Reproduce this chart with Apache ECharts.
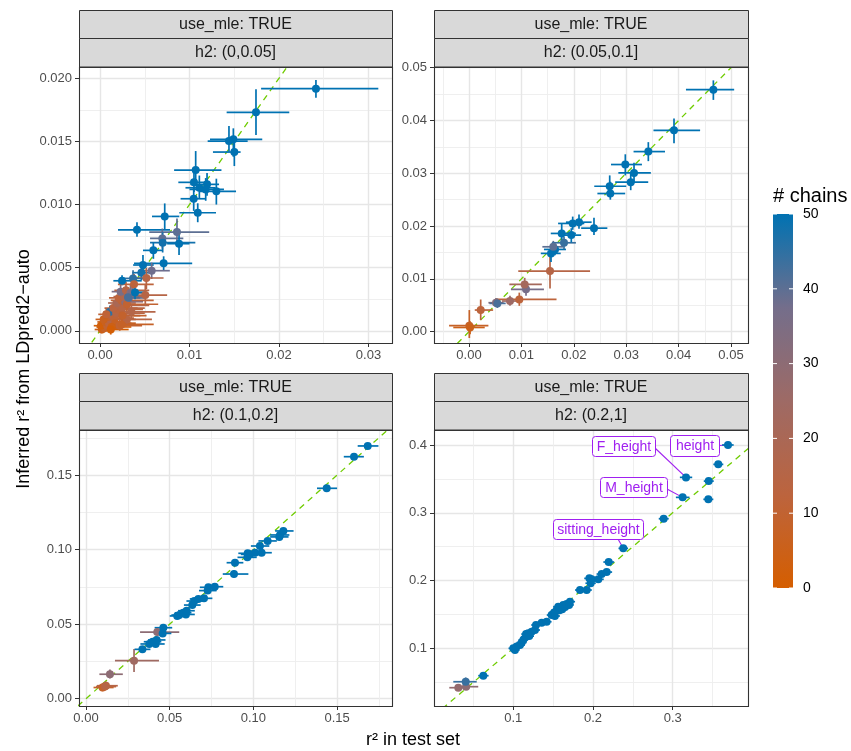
<!DOCTYPE html>
<html>
<head>
<meta charset="utf-8">
<script src="https://cdn.jsdelivr.net/npm/echarts@6/dist/echarts.min.js"></script>
<style>
  html, body { margin: 0; padding: 0; background: #fff; }
  #main { width: 851px; height: 751px; }
</style>
</head>
<body>
<div id="main"></div>
<script>
// rows: [x, xLow, xHigh, y, yLow, yHigh, chains]
const ptsH2a = [
  [0.0002, -0.0006, 0.0015, 0.0001, -0.0002, 0.0005, 5],
  [0.0003, -0.0004, 0.0020, 0.0003, 0.0000, 0.0007, 3],
  [0.0005, -0.0002, 0.0022, 0.0002, -0.0001, 0.0006, 8],
  [0.0001, -0.0007, 0.0012, 0.0004, 0.0001, 0.0008, 2],
  [0.0008, 0.0000, 0.0030, 0.0004, 0.0001, 0.0009, 10],
  [0.0006, -0.0003, 0.0025, 0.0007, 0.0003, 0.0012, 6],
  [0.0010, 0.0002, 0.0035, 0.0006, 0.0002, 0.0011, 12],
  [0.0012, 0.0003, 0.0040, 0.0009, 0.0004, 0.0014, 15],
  [0.0009, 0.0001, 0.0028, 0.0011, 0.0006, 0.0016, 9],
  [0.0014, 0.0005, 0.0045, 0.0012, 0.0007, 0.0018, 18],
  [0.0016, 0.0006, 0.0038, 0.0010, 0.0005, 0.0015, 11],
  [0.0011, 0.0004, 0.0025, 0.0015, 0.0010, 0.0020, 45],
  [0.0018, 0.0008, 0.0050, 0.0014, 0.0008, 0.0020, 14],
  [0.0020, 0.0010, 0.0048, 0.0017, 0.0011, 0.0023, 12],
  [0.0015, 0.0005, 0.0042, 0.0018, 0.0012, 0.0024, 13],
  [0.0022, 0.0012, 0.0055, 0.0020, 0.0014, 0.0026, 16],
  [0.0025, 0.0013, 0.0050, 0.0018, 0.0012, 0.0024, 14],
  [0.0019, 0.0009, 0.0040, 0.0022, 0.0016, 0.0028, 20],
  [0.0024, 0.0012, 0.0060, 0.0024, 0.0017, 0.0031, 11],
  [0.0028, 0.0016, 0.0048, 0.0023, 0.0017, 0.0029, 30],
  [0.0021, 0.0010, 0.0045, 0.0026, 0.0019, 0.0033, 12],
  [0.0027, 0.0015, 0.0052, 0.0027, 0.0020, 0.0034, 18],
  [0.0030, 0.0017, 0.0065, 0.0021, 0.0014, 0.0028, 10],
  [0.0032, 0.0020, 0.0050, 0.0026, 0.0020, 0.0032, 40],
  [0.0017, 0.0007, 0.0040, 0.0006, 0.0001, 0.0011, 7],
  [0.0022, 0.0010, 0.0047, 0.0004, 0.0000, 0.0009, 10],
  [0.0030, 0.0015, 0.0058, 0.0009, 0.0004, 0.0015, 14],
  [0.0025, 0.0012, 0.0052, 0.0012, 0.0006, 0.0018, 9],
  [0.0035, 0.0020, 0.0062, 0.0015, 0.0009, 0.0021, 16],
  [0.0013, 0.0003, 0.0035, 0.0003, -0.0001, 0.0007, 4],
  [0.0004, -0.0005, 0.0020, 0.0009, 0.0004, 0.0014, 6],
  [0.0007, -0.0002, 0.0026, 0.0013, 0.0008, 0.0018, 11],
  [0.0023, 0.0013, 0.0040, 0.0031, 0.0024, 0.0038, 36],
  [0.0029, 0.0016, 0.0055, 0.0032, 0.0025, 0.0039, 15],
  [0.0034, 0.0022, 0.0048, 0.0030, 0.0024, 0.0037, 33],
  [0.0012, 0.0002, 0.0032, 0.0001, -0.0003, 0.0005, 1],
  [0.0024, 0.0012, 0.0060, 0.0005, 0.0001, 0.0009, 8],
  [0.02413, 0.0180, 0.0311, 0.01918, 0.01846, 0.01987, 50],
  [0.01743, 0.01415, 0.02115, 0.01731, 0.01551, 0.01913, 50],
  [0.01441, 0.01203, 0.01650, 0.01503, 0.01418, 0.01622, 50],
  [0.01490, 0.01229, 0.01813, 0.01517, 0.01379, 0.01604, 50],
  [0.01501, 0.01262, 0.01571, 0.01416, 0.01305, 0.01532, 50],
  [0.01069, 0.00828, 0.01357, 0.01273, 0.01147, 0.01424, 50],
  [0.01050, 0.00875, 0.01210, 0.01176, 0.01100, 0.01265, 50],
  [0.01110, 0.00955, 0.01290, 0.01133, 0.01050, 0.01230, 50],
  [0.01196, 0.01010, 0.01330, 0.01160, 0.01070, 0.01250, 50],
  [0.01181, 0.01000, 0.01385, 0.01120, 0.01030, 0.01210, 50],
  [0.01300, 0.01117, 0.01520, 0.01105, 0.01000, 0.01205, 50],
  [0.01047, 0.00900, 0.01180, 0.01046, 0.00950, 0.01140, 50],
  [0.01092, 0.00886, 0.01296, 0.00935, 0.00860, 0.01010, 50],
  [0.00723, 0.00581, 0.00886, 0.00906, 0.00798, 0.01009, 50],
  [0.00413, 0.00201, 0.00782, 0.00800, 0.00745, 0.00860, 50],
  [0.00860, 0.00550, 0.01220, 0.00782, 0.00680, 0.00890, 40],
  [0.00696, 0.00559, 0.00931, 0.00732, 0.00650, 0.00810, 40],
  [0.00700, 0.00559, 0.01065, 0.00698, 0.00620, 0.00780, 48],
  [0.00883, 0.00750, 0.01000, 0.00690, 0.00600, 0.00790, 50],
  [0.00596, 0.00480, 0.00700, 0.00637, 0.00570, 0.00700, 50],
  [0.00711, 0.00380, 0.01030, 0.00534, 0.00480, 0.00590, 50],
  [0.00480, 0.00370, 0.00600, 0.00521, 0.00440, 0.00600, 50],
  [0.00462, 0.00360, 0.00560, 0.00460, 0.00400, 0.00520, 48],
  [0.00577, 0.00430, 0.00780, 0.00476, 0.00410, 0.00540, 38],
  [0.00518, 0.00330, 0.00710, 0.00418, 0.00330, 0.00500, 15],
  [0.00246, 0.00149, 0.00466, 0.00396, 0.00360, 0.00440, 50],
  [0.00369, 0.00250, 0.00500, 0.00415, 0.00350, 0.00480, 45],
  [0.00380, 0.00200, 0.00600, 0.00368, 0.00290, 0.00450, 12],
  [0.00506, 0.00260, 0.00750, 0.00283, 0.00200, 0.00370, 15],
  [0.00358, 0.00220, 0.00500, 0.00304, 0.00250, 0.00360, 35],
  [0.00313, 0.00200, 0.00440, 0.00265, 0.00210, 0.00320, 42],
  [0.00391, 0.00280, 0.00520, 0.00304, 0.00250, 0.00360, 50]
];

const ptsH2b = [
  [0.00006, -0.0038, 0.0037, 0.00114, -0.0012, 0.0041, 8],
  [0.00020, -0.0030, 0.0030, 0.00080, -0.0005, 0.0020, 5],
  [0.00223, 0.0011, 0.0046, 0.00410, 0.0022, 0.0061, 12],
  [0.00515, 0.0037, 0.0066, 0.00549, 0.0047, 0.0064, 32],
  [0.00541, 0.0039, 0.0070, 0.00536, 0.0045, 0.0063, 42],
  [0.00782, 0.0063, 0.0096, 0.00581, 0.0049, 0.0068, 25],
  [0.00960, 0.0053, 0.0167, 0.00612, 0.0049, 0.0074, 12],
  [0.01088, 0.0080, 0.0143, 0.00802, 0.0068, 0.0092, 37],
  [0.01063, 0.0077, 0.0139, 0.00896, 0.0078, 0.0102, 22],
  [0.01546, 0.0094, 0.0231, 0.01148, 0.0082, 0.0142, 15],
  [0.01565, 0.0137, 0.0175, 0.01483, 0.0132, 0.0164, 50],
  [0.01641, 0.0143, 0.0185, 0.01558, 0.0145, 0.0167, 50],
  [0.01609, 0.0140, 0.0180, 0.01608, 0.0150, 0.0172, 40],
  [0.01813, 0.0158, 0.0204, 0.01684, 0.0156, 0.0180, 44],
  [0.01952, 0.0175, 0.0214, 0.01829, 0.0169, 0.0196, 50],
  [0.01769, 0.0156, 0.0204, 0.01861, 0.0166, 0.0205, 50],
  [0.01979, 0.0170, 0.0220, 0.02050, 0.0193, 0.0218, 50],
  [0.02099, 0.0185, 0.0234, 0.02074, 0.0195, 0.0222, 50],
  [0.02385, 0.0214, 0.0264, 0.01961, 0.0183, 0.0216, 50],
  [0.02697, 0.0245, 0.0298, 0.02617, 0.0250, 0.0284, 50],
  [0.02685, 0.0239, 0.0300, 0.02755, 0.0255, 0.0296, 50],
  [0.03086, 0.0279, 0.0342, 0.02831, 0.0268, 0.0300, 50],
  [0.03149, 0.0285, 0.0347, 0.03007, 0.0281, 0.0320, 50],
  [0.02983, 0.0271, 0.0330, 0.03166, 0.0296, 0.0336, 50],
  [0.03422, 0.0314, 0.0374, 0.03411, 0.0323, 0.0359, 50],
  [0.03912, 0.0352, 0.0441, 0.03814, 0.0357, 0.0404, 50],
  [0.04663, 0.0414, 0.0506, 0.04584, 0.0439, 0.0476, 50]
];

const ptsH2c = [
  [0.0099, 0.0045, 0.0165, 0.0075, 0.0050, 0.0105, 8],
  [0.0113, 0.0060, 0.0180, 0.0081, 0.0055, 0.0110, 12],
  [0.0119, 0.0065, 0.0190, 0.0087, 0.0060, 0.0115, 15],
  [0.0143, 0.0080, 0.0220, 0.0164, 0.0135, 0.0195, 30],
  [0.0287, 0.0173, 0.0436, 0.0255, 0.0179, 0.0333, 24],
  [0.0337, 0.0290, 0.0385, 0.0331, 0.0311, 0.0351, 50],
  [0.0378, 0.0325, 0.0430, 0.0367, 0.0347, 0.0387, 50],
  [0.0398, 0.0345, 0.0450, 0.0382, 0.0362, 0.0402, 50],
  [0.0416, 0.0365, 0.0470, 0.0367, 0.0347, 0.0387, 50],
  [0.0422, 0.0370, 0.0475, 0.0394, 0.0374, 0.0414, 50],
  [0.0426, 0.0323, 0.0557, 0.0447, 0.0420, 0.0475, 30],
  [0.0458, 0.0405, 0.0510, 0.0438, 0.0418, 0.0458, 50],
  [0.0462, 0.0410, 0.0515, 0.0476, 0.0456, 0.0496, 50],
  [0.0545, 0.0500, 0.0595, 0.0555, 0.0535, 0.0575, 50],
  [0.0557, 0.0510, 0.0605, 0.0561, 0.0541, 0.0581, 50],
  [0.0581, 0.0530, 0.0630, 0.0576, 0.0556, 0.0596, 50],
  [0.0597, 0.0545, 0.0650, 0.0565, 0.0545, 0.0585, 50],
  [0.0601, 0.0550, 0.0650, 0.0590, 0.0570, 0.0610, 50],
  [0.0635, 0.0585, 0.0685, 0.0628, 0.0608, 0.0648, 50],
  [0.0647, 0.0600, 0.0700, 0.0655, 0.0635, 0.0675, 50],
  [0.0671, 0.0620, 0.0720, 0.0669, 0.0649, 0.0689, 50],
  [0.0705, 0.0655, 0.0755, 0.0673, 0.0653, 0.0693, 50],
  [0.0727, 0.0675, 0.0780, 0.0725, 0.0705, 0.0745, 50],
  [0.0731, 0.0680, 0.0785, 0.0747, 0.0727, 0.0767, 50],
  [0.0769, 0.0720, 0.0820, 0.0751, 0.0731, 0.0771, 50],
  [0.0884, 0.0817, 0.0970, 0.0836, 0.0812, 0.0860, 50],
  [0.0890, 0.0840, 0.0940, 0.0912, 0.0892, 0.0932, 50],
  [0.0964, 0.0905, 0.1020, 0.0948, 0.0928, 0.0968, 50],
  [0.0966, 0.0910, 0.1020, 0.0975, 0.0955, 0.0995, 50],
  [0.0980, 0.0925, 0.1035, 0.0968, 0.0948, 0.0988, 50],
  [0.1010, 0.0955, 0.1065, 0.0979, 0.0959, 0.0999, 50],
  [0.1049, 0.0970, 0.1110, 0.0979, 0.0959, 0.0999, 50],
  [0.1039, 0.0985, 0.1095, 0.1024, 0.1004, 0.1044, 50],
  [0.1085, 0.1030, 0.1140, 0.1058, 0.1038, 0.1078, 50],
  [0.1155, 0.1100, 0.1210, 0.1085, 0.1065, 0.1105, 50],
  [0.1159, 0.1100, 0.1215, 0.1098, 0.1078, 0.1118, 50],
  [0.1179, 0.1130, 0.1240, 0.1125, 0.1105, 0.1145, 50],
  [0.1438, 0.1380, 0.1500, 0.1411, 0.1391, 0.1431, 50],
  [0.1601, 0.1540, 0.1660, 0.1623, 0.1603, 0.1643, 50],
  [0.1683, 0.1623, 0.1747, 0.1695, 0.1675, 0.1715, 50]
];

const ptsH2d = [
  [0.0310, 0.0197, 0.0456, 0.0419, 0.0385, 0.0455, 28],
  [0.0407, 0.0340, 0.0560, 0.0434, 0.0400, 0.0470, 30],
  [0.0403, 0.0247, 0.0541, 0.0507, 0.0445, 0.0570, 44],
  [0.0624, 0.0560, 0.0690, 0.0596, 0.0566, 0.0626, 50],
  [0.1000, 0.0940, 0.1060, 0.1000, 0.0970, 0.1030, 50],
  [0.1021, 0.0960, 0.1080, 0.0975, 0.0945, 0.1005, 50],
  [0.1042, 0.0980, 0.1105, 0.1025, 0.0995, 0.1055, 50],
  [0.1084, 0.1020, 0.1145, 0.1049, 0.1019, 0.1079, 50],
  [0.1104, 0.1040, 0.1165, 0.1084, 0.1054, 0.1114, 50],
  [0.1125, 0.1065, 0.1185, 0.1123, 0.1093, 0.1153, 50],
  [0.1159, 0.1095, 0.1220, 0.1172, 0.1142, 0.1202, 50],
  [0.1160, 0.1100, 0.1220, 0.1210, 0.1180, 0.1240, 50],
  [0.1188, 0.1125, 0.1250, 0.1221, 0.1191, 0.1251, 50],
  [0.1200, 0.1140, 0.1260, 0.1180, 0.1150, 0.1210, 50],
  [0.1230, 0.1170, 0.1290, 0.1245, 0.1215, 0.1275, 50],
  [0.1272, 0.1210, 0.1335, 0.1270, 0.1240, 0.1300, 50],
  [0.1285, 0.1225, 0.1345, 0.1344, 0.1314, 0.1374, 50],
  [0.1356, 0.1295, 0.1420, 0.1377, 0.1347, 0.1407, 50],
  [0.1419, 0.1355, 0.1480, 0.1392, 0.1362, 0.1422, 50],
  [0.1481, 0.1420, 0.1545, 0.1491, 0.1461, 0.1521, 50],
  [0.1500, 0.1440, 0.1560, 0.1500, 0.1470, 0.1530, 50],
  [0.1510, 0.1450, 0.1570, 0.1526, 0.1496, 0.1556, 50],
  [0.1522, 0.1460, 0.1585, 0.1477, 0.1447, 0.1507, 50],
  [0.1543, 0.1480, 0.1605, 0.1566, 0.1536, 0.1596, 50],
  [0.1564, 0.1500, 0.1625, 0.1615, 0.1585, 0.1645, 50],
  [0.1580, 0.1520, 0.1645, 0.1560, 0.1530, 0.1590, 50],
  [0.1585, 0.1525, 0.1650, 0.1605, 0.1575, 0.1635, 50],
  [0.1614, 0.1550, 0.1675, 0.1575, 0.1545, 0.1605, 50],
  [0.1627, 0.1565, 0.1690, 0.1639, 0.1609, 0.1669, 50],
  [0.1650, 0.1590, 0.1712, 0.1610, 0.1580, 0.1640, 50],
  [0.1669, 0.1605, 0.1730, 0.1654, 0.1624, 0.1684, 50],
  [0.1700, 0.1640, 0.1760, 0.1640, 0.1610, 0.1670, 50],
  [0.1711, 0.1650, 0.1775, 0.1688, 0.1658, 0.1718, 50],
  [0.1837, 0.1775, 0.1900, 0.1860, 0.1830, 0.1890, 50],
  [0.1921, 0.1855, 0.1985, 0.1860, 0.1830, 0.1890, 50],
  [0.1955, 0.1890, 0.2020, 0.2032, 0.2002, 0.2062, 50],
  [0.1971, 0.1905, 0.2035, 0.1960, 0.1930, 0.1990, 50],
  [0.1984, 0.1920, 0.2050, 0.2018, 0.1988, 0.2048, 50],
  [0.2067, 0.2000, 0.2135, 0.2018, 0.1988, 0.2048, 50],
  [0.2109, 0.2045, 0.2175, 0.2096, 0.2066, 0.2126, 50],
  [0.2172, 0.2105, 0.2240, 0.2125, 0.2095, 0.2155, 50],
  [0.2197, 0.2130, 0.2265, 0.2273, 0.2243, 0.2303, 50],
  [0.2380, 0.2320, 0.2440, 0.2475, 0.2445, 0.2505, 50],
  [0.2887, 0.2825, 0.2950, 0.2912, 0.2882, 0.2942, 50],
  [0.3447, 0.3385, 0.3510, 0.3198, 0.3168, 0.3228, 50],
  [0.3125, 0.3040, 0.3210, 0.3227, 0.3197, 0.3257, 50],
  [0.3167, 0.3090, 0.3245, 0.3522, 0.3492, 0.3552, 50],
  [0.3452, 0.3390, 0.3515, 0.3467, 0.3437, 0.3497, 50],
  [0.3572, 0.3510, 0.3635, 0.3714, 0.3684, 0.3744, 50],
  [0.3694, 0.3620, 0.3765, 0.4000, 0.3970, 0.4030, 50]
];

// labelled traits in the last panel: [name, row index in ptsH2d]
const traitLabels = [['height', 49], ['F_height', 46], ['M_height', 45], ['sitting_height', 42]];

const stripTop = 'use_mle: TRUE';
const stripH2 = ['h2: (0,0.05]', 'h2: (0.05,0.1]', 'h2: (0.1,0.2]', 'h2: (0.2,1]'];

const xTicks = [
  [0, 0.01, 0.02, 0.03],
  [0, 0.01, 0.02, 0.03, 0.04, 0.05],
  [0, 0.05, 0.10, 0.15],
  [0.1, 0.2, 0.3]
];
const yTicks = [
  [0, 0.005, 0.010, 0.015, 0.020],
  [0, 0.01, 0.02, 0.03, 0.04, 0.05],
  [0, 0.05, 0.10, 0.15],
  [0.1, 0.2, 0.3, 0.4]
];
const legendTicks = [0, 10, 20, 30, 40, 50];

const panelData = [ptsH2a, ptsH2b, ptsH2c, ptsH2d];
const xLim = [[-0.00235, 0.03263], [-0.00668, 0.05324], [-0.00418, 0.1828], [0.0005, 0.3945]];
const yLim = [[-0.00097, 0.0209], [-0.00214, 0.05013], [-0.0049, 0.1802], [0.0149, 0.4221]];
const xDec = [2, 2, 2, 1];
const yDec = [3, 2, 2, 1];

const grids = [
  { left: 79, top: 67, width: 313, height: 276 },
  { left: 434, top: 67, width: 314, height: 276 },
  { left: 79, top: 430, width: 313, height: 276 },
  { left: 434, top: 430, width: 314, height: 276 }
];

const FONT = '"Liberation Sans", Arial, sans-serif';
const chainStops = ['#D55E00', '#BC643E', '#9E6A65', '#746E8B', '#0072B2'];
function chainColor(n) {
  return echarts.color.lerp(n / 50, chainStops);
}

function fmt(dec, ticks) {
  return function (v) {
    for (let t of ticks) {
      if (Math.abs(t - v) < 1e-9) return v.toFixed(dec);
    }
    return '';
  };
}

function axisCommon(ticks, dec, step, margin) {
  return {
    type: 'value',
    minInterval: step,
    maxInterval: step,
    axisLine: { show: false, onZero: false },
    axisTick: { show: true, length: 4, lineStyle: { color: '#333333', width: 1 }, customValues: ticks },
    axisLabel: { color: '#4D4D4D', fontSize: 13, fontFamily: FONT, margin: margin,
      showMinLabel: true, showMaxLabel: true, formatter: fmt(dec, ticks), customValues: ticks },
    splitLine: { show: true, lineStyle: { color: '#E6E6E6', width: 1.4 } },
    minorTick: { show: false, splitNumber: 2 },
    minorSplitLine: { show: true, lineStyle: { color: '#EDEDED', width: 0.9 } }
  };
}

const xAxes = [], yAxes = [], series = [], graphics = [];
for (let i = 0; i < 4; i++) {
  const xs = xTicks[i][1] - xTicks[i][0];
  const ys = yTicks[i][1] - yTicks[i][0];
  xAxes.push(Object.assign(axisCommon(xTicks[i], xDec[i], xs, 6), {
    gridIndex: i, min: xLim[i][0], max: xLim[i][1], splitNumber: 4, position: 'bottom'
  }));
  yAxes.push(Object.assign(axisCommon(yTicks[i], yDec[i], ys, 7), {
    gridIndex: i, min: yLim[i][0], max: yLim[i][1], splitNumber: 4, position: 'left'
  }));

  // y = x reference line
  const lo = Math.min(xLim[i][0], yLim[i][0]);
  const hi = Math.max(xLim[i][1], yLim[i][1]);
  series.push({
    type: 'line', xAxisIndex: i, yAxisIndex: i, silent: true, clip: true, z: 1,
    symbol: 'none', data: [[lo, lo], [hi, hi]],
    lineStyle: { color: '#6FCC00', width: 1.3, type: [6, 5] }
  });

  // error bars
  series.push({
    type: 'custom', xAxisIndex: i, yAxisIndex: i, silent: true, clip: true, z: 2,
    data: panelData[i],
    encode: { x: [0, 1, 2], y: [3, 4, 5] },
    renderItem: function (params, api) {
      const c = chainColor(api.value(6));
      const xl = api.coord([api.value(1), api.value(3)]);
      const xh = api.coord([api.value(2), api.value(3)]);
      const yl = api.coord([api.value(0), api.value(4)]);
      const yh = api.coord([api.value(0), api.value(5)]);
      return {
        type: 'group',
        children: [
          { type: 'line', shape: { x1: xl[0], y1: xl[1], x2: xh[0], y2: xh[1] }, style: { stroke: c, lineWidth: 1.7 } },
          { type: 'line', shape: { x1: yl[0], y1: yl[1], x2: yh[0], y2: yh[1] }, style: { stroke: c, lineWidth: 1.7 } }
        ]
      };
    }
  });

  // points
  series.push({
    type: 'scatter', xAxisIndex: i, yAxisIndex: i, silent: true, z: 3,
    data: panelData[i],
    encode: { x: 0, y: 3 },
    symbolSize: 8,
    itemStyle: { opacity: 1, color: function (p) { return chainColor(p.value[6]); } }
  });

  // facet strips and panel border
  const g = grids[i];
  const sTop = g.top - 57;
  graphics.push({
    type: 'rect', z: 10, silent: true,
    shape: { x: g.left + 0.5, y: sTop + 0.5, width: g.width, height: 28 },
    style: { fill: '#D9D9D9', stroke: '#333333', lineWidth: 1 }
  });
  graphics.push({
    type: 'rect', z: 10, silent: true,
    shape: { x: g.left + 0.5, y: sTop + 28.5, width: g.width, height: 28.5 },
    style: { fill: '#D9D9D9', stroke: '#333333', lineWidth: 1 }
  });
  graphics.push({
    type: 'text', z: 11, silent: true, x: g.left + g.width / 2, y: sTop + 14.5,
    style: { text: stripTop, fill: '#1A1A1A', fontSize: 16, fontFamily: FONT, align: 'center', verticalAlign: 'middle' }
  });
  graphics.push({
    type: 'text', z: 11, silent: true, x: g.left + g.width / 2, y: sTop + 43,
    style: { text: stripH2[i], fill: '#1A1A1A', fontSize: 16, fontFamily: FONT, align: 'center', verticalAlign: 'middle' }
  });
  graphics.push({
    type: 'rect', z: 50, silent: true,
    shape: { x: g.left + 0.5, y: g.top + 0.5, width: g.width, height: g.height },
    style: { fill: null, stroke: '#333333', lineWidth: 1.1 }
  });
}

// axis titles
graphics.push({
  type: 'text', silent: true, x: 413, y: 740,
  style: { text: 'r² in test set', fill: '#000', fontSize: 18, fontFamily: FONT, align: 'center', verticalAlign: 'middle' }
});
graphics.push({
  type: 'text', silent: true, x: 24, y: 369, rotation: Math.PI / 2,
  style: { text: 'Inferred r² from LDpred2−auto', fill: '#000', fontSize: 18, fontFamily: FONT, align: 'center', verticalAlign: 'middle' }
});

// colour bar legend
const barX = 773, barTop = 214, barH = 374, barW = 20;
graphics.push({
  type: 'text', silent: true, x: barX, y: 196,
  style: { text: '# chains', fill: '#000', fontSize: 20, fontFamily: FONT, align: 'left', verticalAlign: 'middle' }
});
graphics.push({
  type: 'rect', silent: true,
  shape: { x: barX, y: barTop, width: barW, height: barH },
  style: {
    fill: new echarts.graphic.LinearGradient(0, 0, 0, 1, chainStops.slice().reverse().map(function (c, k) {
      return { offset: k / (chainStops.length - 1), color: c };
    }))
  }
});
legendTicks.forEach(function (t) {
  const y = barTop + barH * (1 - t / 50);
  graphics.push({ type: 'line', silent: true, z: 5, shape: { x1: barX, y1: y, x2: barX + 4, y2: y }, style: { stroke: '#fff', lineWidth: 1 } });
  graphics.push({ type: 'line', silent: true, z: 5, shape: { x1: barX + barW - 4, y1: y, x2: barX + barW, y2: y }, style: { stroke: '#fff', lineWidth: 1 } });
  graphics.push({
    type: 'text', silent: true, x: barX + 30, y: y,
    style: { text: String(t), fill: '#000', fontSize: 14, fontFamily: FONT, align: 'left', verticalAlign: 'middle' }
  });
});

const chart = echarts.init(document.getElementById('main'), null, { renderer: 'canvas', width: 851, height: 751 });
chart.setOption({
  animation: false,
  backgroundColor: '#fff',
  textStyle: { fontFamily: FONT },
  grid: grids.map(function (g) { return Object.assign({ show: false, containLabel: false, outerBoundsMode: 'none' }, g); }),
  xAxis: xAxes,
  yAxis: yAxes,
  series: series,
  graphic: graphics
});

// repelled labels in the (0.2,1] panel
const labelBoxes = {
  'height': { x: 670, y: 435, w: 49, h: 21, sx: 719, sy: 445.5 },
  'F_height': { x: 592, y: 436, w: 63, h: 20, sx: 655, sy: 448 },
  'M_height': { x: 600, y: 477, w: 67, h: 20, sx: 667, sy: 489 },
  'sitting_height': { x: 553, y: 519, w: 90, h: 20, sx: 618, sy: 539 }
};
const labelGraphics = [];
traitLabels.forEach(function (lab) {
  const row = ptsH2d[lab[1]];
  const p = chart.convertToPixel({ xAxisIndex: 3, yAxisIndex: 3 }, [row[0], row[3]]);
  const b = labelBoxes[lab[0]];
  labelGraphics.push({
    type: 'line', silent: true, z: 1,
    shape: { x1: b.sx, y1: b.sy, x2: p[0], y2: p[1] },
    style: { stroke: '#A020F0', lineWidth: 1.1 }
  });
  labelGraphics.push({
    type: 'rect', silent: true, z: 60,
    shape: { x: b.x + 0.5, y: b.y + 0.5, width: b.w, height: b.h, r: 3 },
    style: { fill: '#fff', stroke: '#A020F0', lineWidth: 1 }
  });
  labelGraphics.push({
    type: 'text', silent: true, z: 61, x: b.x + b.w / 2 + 0.5, y: b.y + b.h / 2 + 1,
    style: { text: lab[0], fill: '#A020F0', fontSize: 14, fontFamily: FONT, align: 'center', verticalAlign: 'middle' }
  });
});
chart.setOption({ graphic: graphics.concat(labelGraphics) });
</script>
</body>
</html>
